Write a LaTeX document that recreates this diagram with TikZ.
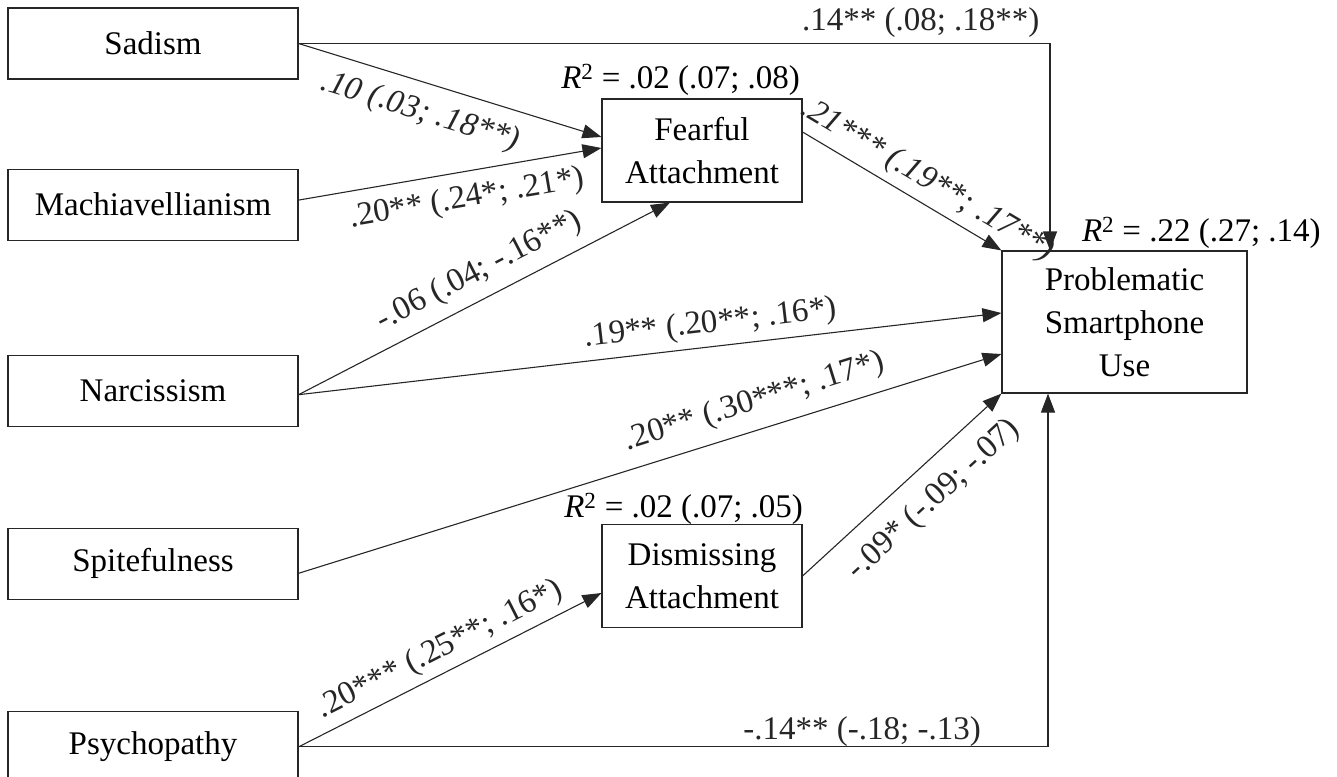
\documentclass[tikz,border=0pt]{standalone}
\usepackage{fontspec}
\setmainfont{Liberation Serif}
\usetikzlibrary{arrows.meta, positioning}
\colorlet{colorLine}{black!85}
\newcommand{\Rtwo}{\textit{R}\textsuperscript{2}}

\begin{document}
\begin{tikzpicture}[x=1pt, y=-1pt, >={Triangle[length=19pt, width=14pt]}, line width=1.1pt,
  font=\fontsize{33}{43}\selectfont,
  trait/.style={draw=colorLine, minimum width=290pt, minimum height=71pt},
  attach/.style={draw=colorLine, align=center, minimum width=200pt, minimum height=103pt},
  coef/.style={sloped, inner sep=2pt}]
\useasboundingbox (0,0) rectangle (1337,776);

% dark triad traits
\node[trait] (sad) at (153,43.5) {Sadism};
\node[trait, below=89pt of sad] (mach) {Machiavellianism};
\node[trait, below=114pt of mach] (narc) {Narcissism};
\node[trait, below=101pt of narc] (spite) {Spitefulness};
\node[trait, below=111pt of spite] (psych) {Psychopathy};

% mediators and outcome
\node[attach] (fear) at (702,150.5) {Fearful\\Attachment};
\node[attach] (dism) at (702,576) {Dismissing\\Attachment};
\node[attach, minimum width=245pt, minimum height=142pt] (psu) at (1124.5,322) {Problematic\\Smartphone\\Use};

\node[inner sep=0pt, above left=2pt and 2pt of fear.north east] (rfear) {\Rtwo{} = .02 (.07; .08)};
\node[inner sep=0pt, above left=-1pt and -1pt of dism.north east] (rdism) {\Rtwo{} = .02 (.07; .05)};
\node[inner sep=0pt, above right=1pt and 80pt of psu.north west] (rpsu) {\Rtwo{} = .22 (.27; .14)};

% paths
\draw[->, colorLine] (sad.east) -- node[coef, pos=0.43, below=12pt] {\itshape .10 (.03; .18**)} ([yshift=13.5pt]fear.west);
\draw[->, colorLine] ([yshift=4.5pt]mach.east) -- node[coef, pos=0.54, below=10pt] {.20** (.24*; .21*)} ([yshift=2.5pt]fear.west);
\draw[->, colorLine] ([yshift=-4pt]narc.east) -- node[coef, pos=0.52, above=9pt] {-.06 (.04; -.16**)} ([xshift=-32pt]fear.south);
\draw[->, colorLine] ([yshift=-4pt]narc.east) -- node[coef, pos=0.59, above=5pt] {.19** (.20**; .16*)} ([yshift=9pt]psu.west);
\draw[->, colorLine] ([yshift=-9.5pt]spite.east) -- node[coef, pos=0.66, above=10pt] {.20** (.30***; .17*)} ([yshift=-32pt]psu.west);
\draw[->, colorLine] (psych.east) -- node[coef, pos=0.5, above=5pt] {.20*** (.25**; .16*)} ([yshift=-17pt]dism.west);
\draw[->, colorLine] ([yshift=18.5pt]fear.east) -- node[coef, pos=0.57, above=5pt] {\itshape .21*** (.19**; .17**)} (psu.north west);
\draw[->, colorLine] (dism.east) -- node[coef, pos=0.55, below=15pt] {-.09* (-.09; -.07)} (psu.south west);
\draw[->, colorLine] (sad.east) -| node[inner sep=2pt, pos=0.414, above=3pt] {.14** (.08; .18**)} ([xshift=-74.5pt]psu.north);
\draw[->, colorLine] (psych.east) -| node[inner sep=2pt, pos=0.376, above=-2pt] {-.14** (-.18; -.13)} ([xshift=-76.5pt]psu.south);
\end{tikzpicture}
\end{document}
